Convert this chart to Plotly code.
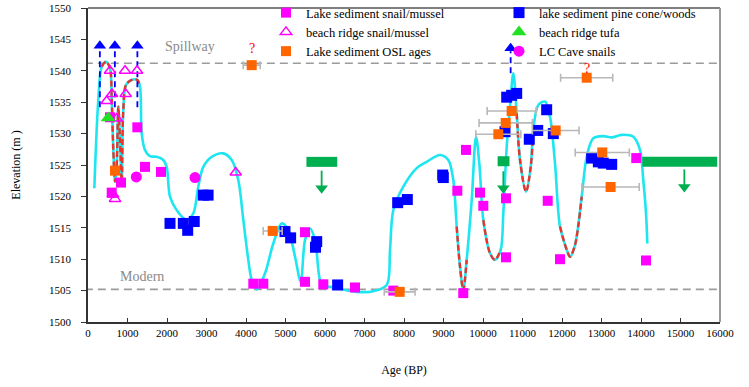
import plotly.graph_objects as go

# ---------------- data ----------------
spillway_level = 1541.2
modern_level = 1505.2

snail_age = [557, 1249, 835, 600, 1443, 1848, 4185, 4438, 5494, 5494, 5957, 6760, 7730,
             9350, 9570, 9924, 10008, 9500, 10582, 10582, 11638, 11949, 13880, 14127]
snail_elev = [1532.6, 1531.0, 1522.2, 1520.6, 1524.7, 1523.9, 1506.1, 1506.1, 1506.4, 1514.3, 1506.0, 1505.5, 1505.0,
              1520.9, 1527.4, 1520.6, 1518.5, 1504.6, 1510.3, 1519.7, 1519.3, 1510.0, 1526.1, 1509.8]

pine_age = [2076, 2413, 2524, 2690, 2920, 3040, 4987, 5130, 5790, 5760, 6320, 7840, 8084, 8980, 8995,
            10600, 10725, 10853, 10557, 11612, 11385, 11172, 11780, 12750, 12920, 13045, 13258]
pine_elev = [1515.7, 1515.7, 1514.6, 1516.0, 1520.2, 1520.2, 1514.4, 1513.4, 1512.8, 1511.9, 1505.9, 1519.0, 1519.5, 1523.4, 1523.0,
             1535.8, 1536.1, 1536.4, 1530.3, 1533.8, 1530.5, 1529.1, 1530.0, 1526.1, 1525.5, 1525.3, 1525.1]

beach_age = [557, 937, 1240, 473, 608, 954, 726, 633, 684, 3740]
beach_elev = [1540.0, 1540.0, 1540.0, 1535.2, 1536.3, 1536.3, 1532.4, 1520.3, 1519.6, 1523.8]

tufa_age = [510]
tufa_elev = [1532.5]

osl_age = [684, 4144, 4675, 7890, 10388, 10575, 10725, 11840, 12625, 13020, 13230]
osl_elev = [1524.1, 1540.9, 1514.5, 1504.8, 1529.9, 1531.7, 1533.6, 1530.5, 1538.9, 1527.0, 1521.5]
osl_err = [0, 215, 240, 390, 570, 675, 620, 590, 660, 685, 725]
osl_questioned = [1, 8]

cave_age = [1223, 2709]
cave_elev = [1523.1, 1523.0]

# upper-limit bars (green) with downward arrows
bar_start = [5530, 10370, 14035]
bar_end = [6310, 10670, 15930]
bar_elev = [1525.5, 1525.6, 1525.5]
bar_arrow_age = [5915, 10515, 15097]
bar_arrow_top = [1524.1, 1524.0, 1524.3]
bar_arrow_tip = [1520.5, 1520.5, 1520.7]

# lower-limit dashed blue arrows
up_age = [300, 680, 1250, 10700]
up_base = [1534.2, 1534.2, 1534.2, 1539.6]
up_tip = [1544.8, 1544.8, 1544.8, 1544.4]

# lake level curve
curve_age = [160, 261, 347, 456, 557, 600, 641, 684, 722, 767, 810, 853, 894, 962, 1106, 1248, 1316, 1359,
             1443, 1570, 1739, 1906, 1992, 2076, 2246, 2499, 2666, 2792, 2919, 3132, 3425, 3638, 3805, 3932,
             4058, 4144, 4271, 4481, 4691, 4904, 5071, 5241, 5385, 5494, 5620, 5747, 5873, 5957, 6210, 6803,
             7223, 7562, 7646, 7729, 7982, 8322, 8575, 8911, 9122, 9248, 9334, 9418, 9501, 9587, 9714, 9823,
             9906, 10008, 10177, 10304, 10448, 10514, 10600, 10684, 10767, 10853, 10937, 11089, 11208, 11273,
             11400, 11570, 11696, 11823, 11949, 12119, 12203, 12329, 12499, 12625, 12792, 13046, 13258, 13511,
             13805, 13975, 14058, 14127, 14160]
curve_elev = [1521.3, 1535.35, 1540.65, 1541.45, 1540.4, 1535.35, 1527.4, 1522.35, 1524.2, 1534.3, 1529.0, 1522.35,
              1533.75, 1537.75, 1538.55, 1538.55, 1537.5, 1530.05, 1527.4, 1526.4, 1526.3, 1525.8, 1524.7, 1519.95,
              1517.8, 1516.25, 1517.3, 1521.55, 1524.7, 1526.3, 1526.85, 1525.8, 1522.6, 1516.25, 1509.9, 1506.7,
              1505.2, 1507.75, 1512.5, 1515.7, 1514.65, 1510.4, 1506.4, 1513.05, 1514.9, 1513.05, 1506.7, 1505.9,
              1505.5, 1504.8, 1504.9, 1505.9, 1511.5, 1517.8, 1521.55, 1524.5, 1525.5, 1526.6, 1525.8, 1522.6,
              1515.2, 1508.8, 1505.1, 1509.9, 1519.4, 1529.5, 1525.3, 1516.25, 1510.95, 1509.9, 1511.5, 1517.3,
              1527.9, 1534.3, 1539.6, 1533.25, 1525.8, 1520.75, 1524.7, 1530.6, 1534.55, 1535.1, 1532.7, 1525.25,
              1515.2, 1511.5, 1510.4, 1512.25, 1519.95, 1526.3, 1529.25, 1529.6, 1529.4, 1529.8, 1529.5, 1527.4,
              1522.6, 1517.3, 1512.5]
# age ranges where the alternative (red dashed) reconstruction is drawn
red_ranges = [(340, 1330), (9330, 9600), (10000, 10460), (10850, 11280), (11940, 12510)]

# ---------------- figure ----------------
FONT = "Liberation Serif, 'Times New Roman', serif"
PLOT_H = 314
PX_PER_M = PLOT_H / 50.0  # vertical pixels per metre

fig = go.Figure()

for lvl in (spillway_level, modern_level):
    fig.add_trace(go.Scatter(x=[-80, 16000], y=[lvl, lvl], mode="lines",
                             line=dict(color="#9c9c9c", width=1.6, dash="8px,5px"),
                             showlegend=False, hoverinfo="skip", cliponaxis=False))

fig.add_trace(go.Scatter(x=curve_age, y=curve_elev, mode="lines",
                         line=dict(color="#1ee6f0", width=2.6, shape="spline", smoothing=0.9),
                         showlegend=False, hoverinfo="skip"))

for a0, a1 in red_ranges:
    xs = [a for a in curve_age if a0 <= a <= a1]
    ys = [e for a, e in zip(curve_age, curve_elev) if a0 <= a <= a1]
    fig.add_trace(go.Scatter(x=xs, y=ys, mode="lines",
                             line=dict(color="#e8342a", width=2.4, dash="6px,3px", shape="spline", smoothing=0.9),
                             showlegend=False, hoverinfo="skip"))

# blue dashed arrows
for a, b, t in zip(up_age, up_base, up_tip):
    fig.add_trace(go.Scatter(x=[a, a], y=[b, t - 8 / PX_PER_M], mode="lines",
                             line=dict(color="#0000ff", width=1.8, dash="6px,4px"),
                             showlegend=False, hoverinfo="skip"))
fig.add_trace(go.Scatter(x=up_age, y=[t - 5 / PX_PER_M for t in up_tip], mode="markers",
                         marker=dict(symbol="triangle-up", size=11, color="#0000ff"),
                         showlegend=False, hoverinfo="skip"))

# green bars and arrows
for s, e, y in zip(bar_start, bar_end, bar_elev):
    fig.add_trace(go.Scatter(x=[s, e], y=[y, y], mode="lines",
                             line=dict(color="#00b050", width=10),
                             showlegend=False, hoverinfo="skip"))
for a, t, tip in zip(bar_arrow_age, bar_arrow_top, bar_arrow_tip):
    fig.add_trace(go.Scatter(x=[a, a], y=[t, tip + 6 / PX_PER_M], mode="lines",
                             line=dict(color="#00b050", width=1.8),
                             showlegend=False, hoverinfo="skip"))
fig.add_trace(go.Scatter(x=bar_arrow_age, y=[t + 5 / PX_PER_M for t in bar_arrow_tip], mode="markers",
                         marker=dict(symbol="triangle-down", size=11, color="#00b050"),
                         showlegend=False, hoverinfo="skip"))

# data series
fig.add_trace(go.Scatter(x=snail_age, y=snail_elev, mode="markers", name="Lake sediment snail/mussel",
                         marker=dict(symbol="square", size=10, color="#ff00ff"), legendrank=1))
fig.add_trace(go.Scatter(x=pine_age, y=pine_elev, mode="markers", name="lake sediment pine cone/woods",
                         marker=dict(symbol="square", size=11, color="#0000ff"), legendrank=2))
fig.add_trace(go.Scatter(x=beach_age, y=beach_elev, mode="markers", name="beach ridge snail/mussel",
                         marker=dict(symbol="triangle-up-open", size=10, color="#ff00ff", line=dict(width=1.5)),
                         legendrank=3))
fig.add_trace(go.Scatter(x=tufa_age, y=tufa_elev, mode="markers", name="beach ridge tufa",
                         marker=dict(symbol="triangle-up", size=13, color="#22e022"), legendrank=4))
fig.add_trace(go.Scatter(x=osl_age, y=osl_elev, mode="markers", name="Lake sediment OSL ages",
                         error_x=dict(type="data", array=osl_err, color="#b8b8b8", thickness=1.6, width=4),
                         marker=dict(symbol="square", size=10, color="#ff6600"), legendrank=5))
fig.add_trace(go.Scatter(x=cave_age, y=cave_elev, mode="markers", name="LC Cave snails",
                         marker=dict(symbol="circle", size=11, color="#ff00ff"), legendrank=6))

annotations = [
    dict(x=2580, y=1543.8, text="Spillway", showarrow=False, font=dict(family=FONT, size=14, color="#8a8a8a")),
    dict(x=1370, y=1507.3, text="Modern", showarrow=False, font=dict(family=FONT, size=14, color="#8a8a8a")),
]
q_shift = {1: 17, 8: 9}
for i in osl_questioned:
    annotations.append(dict(x=osl_age[i], y=osl_elev[i], text="?", showarrow=False, yshift=q_shift[i],
                            font=dict(family=FONT, size=14, color="#ff0000")))

fig.update_layout(
    width=749, height=387,
    margin=dict(l=88, r=29, t=8, b=387 - 8 - PLOT_H, autoexpand=False),
    paper_bgcolor="white", plot_bgcolor="white",
    font=dict(family=FONT, color="black"),
    showlegend=True,
    legend=dict(orientation="h", x=(266 - 88) / 632, y=1 + 10 / PLOT_H, xanchor="left", yanchor="top",
                entrywidth=188, entrywidthmode="pixels", bgcolor="rgba(0,0,0,0)",
                font=dict(family=FONT, size=12.5, color="black"), tracegroupgap=0),
    xaxis=dict(range=[0, 16000], tick0=0, dtick=1000, tickformat="d", ticks="inside", ticklen=4,
               tickcolor="#333", showline=True, linecolor="#333", linewidth=1.6, showgrid=False,
               zeroline=False, tickfont=dict(family=FONT, size=11),
               title=dict(text="Age (BP)", font=dict(family=FONT, size=12), standoff=28)),
    yaxis=dict(range=[1500, 1550], tick0=1500, dtick=5, ticks="outside", ticklen=5, tickcolor="#333",
               showline=True, linecolor="#333", linewidth=1.6, showgrid=False, zeroline=False,
               tickfont=dict(family=FONT, size=11), ticklabelstandoff=8,
               title=dict(text="Elevation (m )", font=dict(family=FONT, size=12), standoff=26)),
    shapes=[
        dict(type="line", xref="paper", yref="paper", x0=0, x1=1, y0=1, y1=1,
             line=dict(color="#555", width=1.4)),
        dict(type="line", xref="paper", yref="paper", x0=1, x1=1, y0=0, y1=1,
             line=dict(color="#999", width=2)),
    ],
    annotations=annotations,
)

fig.write_html("out.html", config={"displayModeBar": False},
               post_script="document.body.style.margin='0';")
